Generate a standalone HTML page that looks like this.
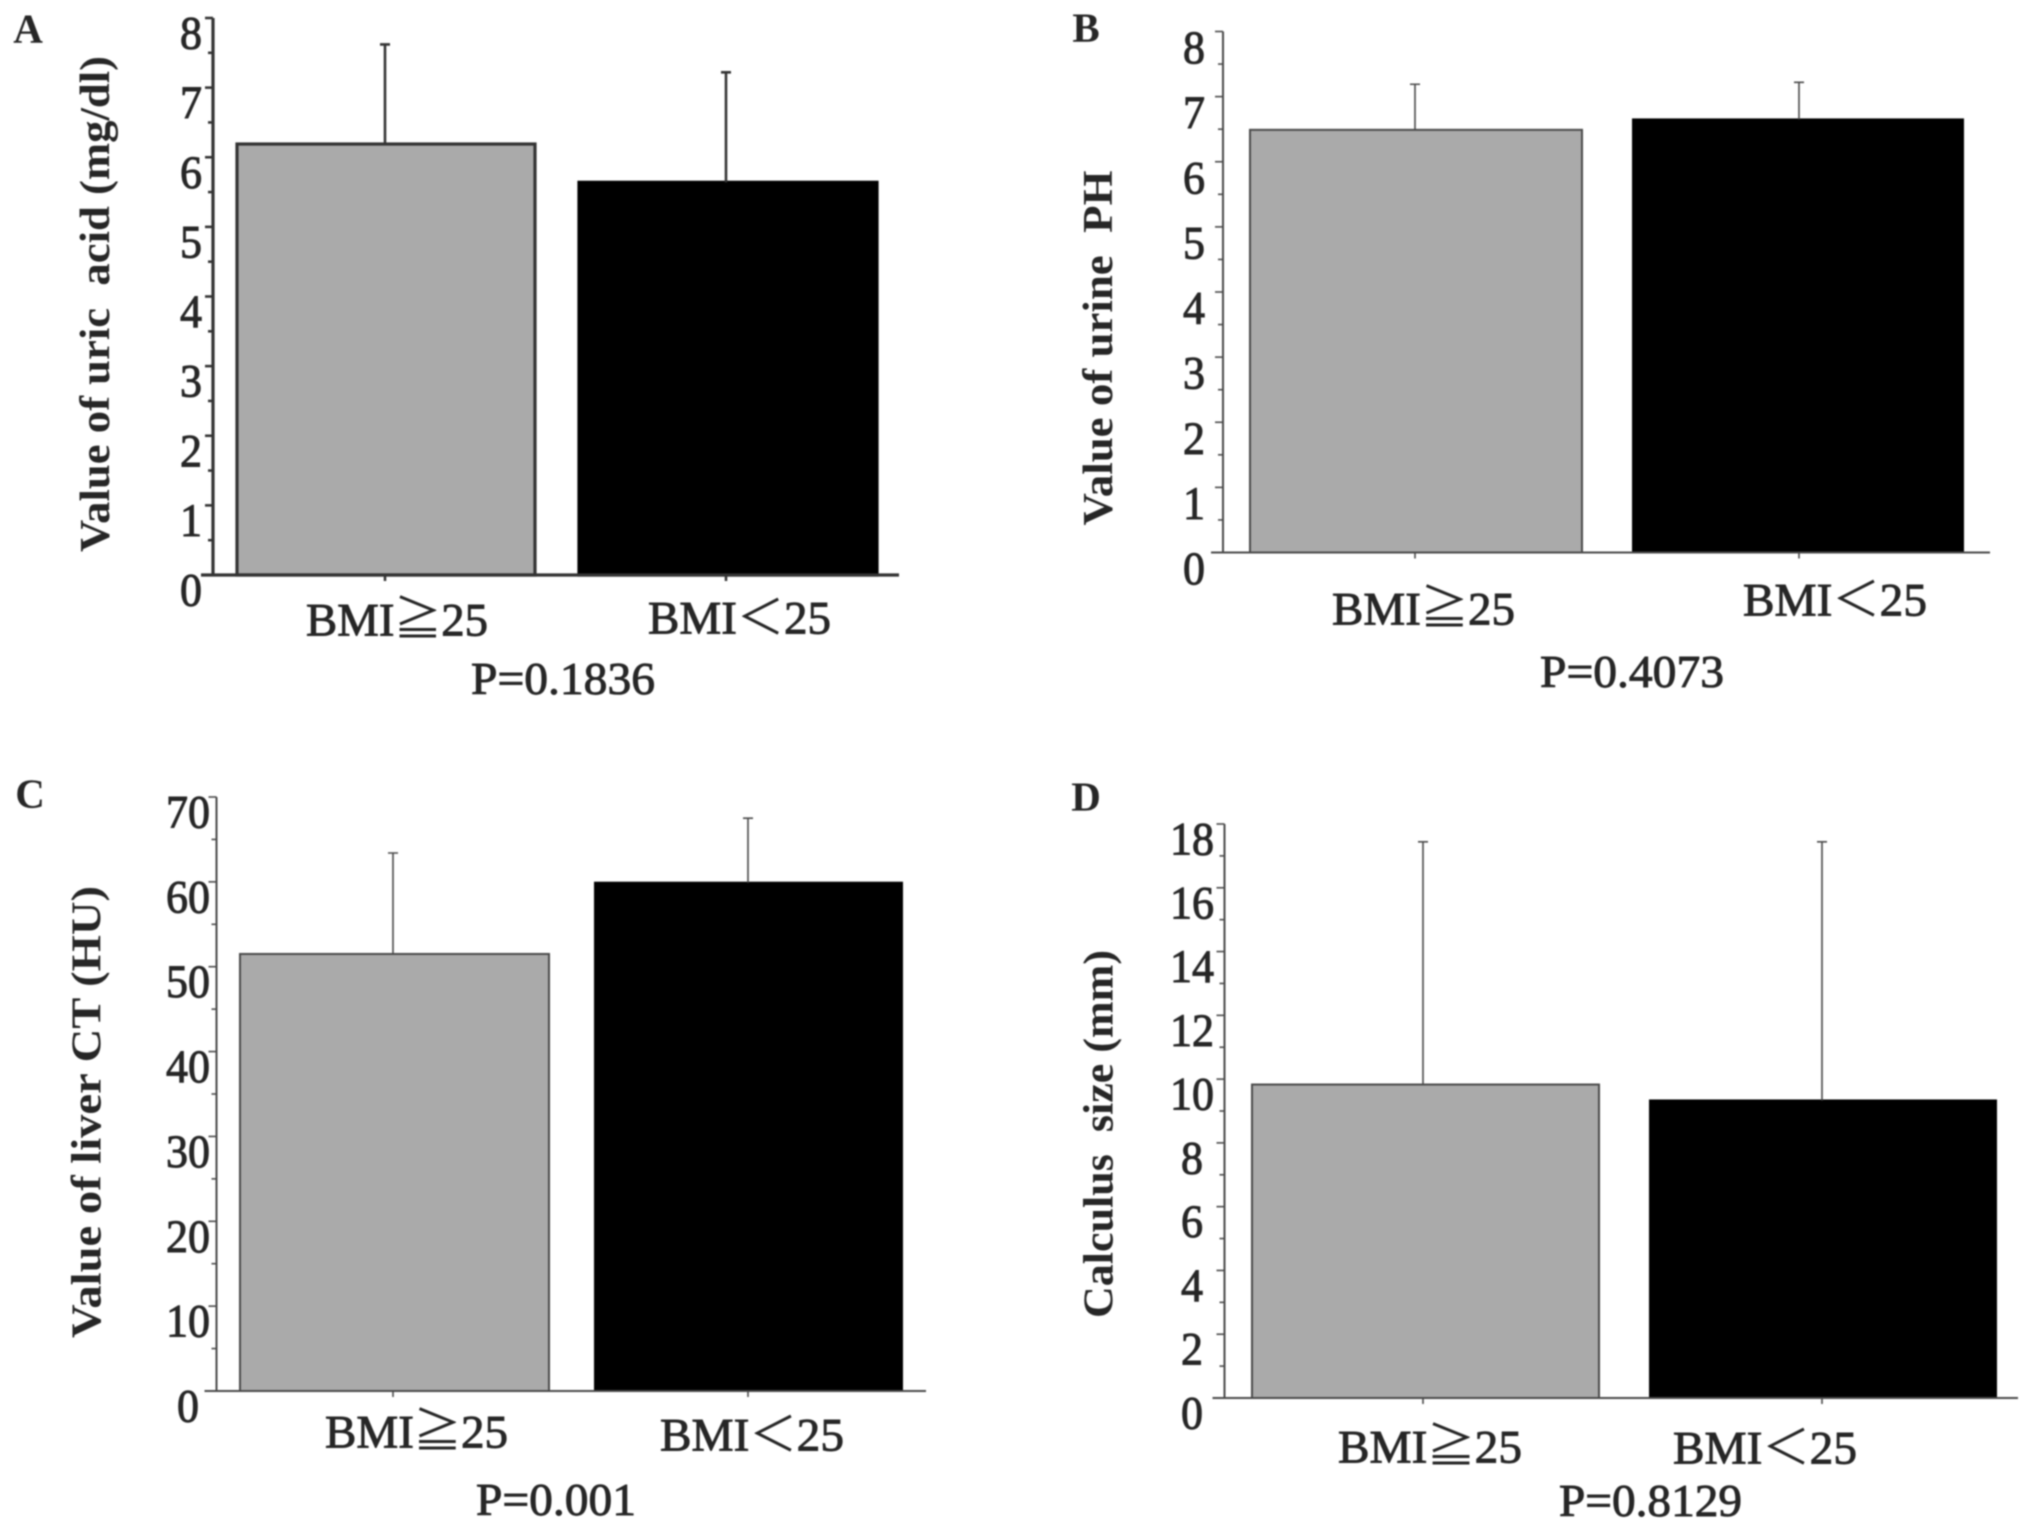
<!DOCTYPE html>
<html>
<head>
<meta charset="utf-8">
<title>Bar charts by BMI group</title>
<style>
html,body{margin:0;padding:0;background:#fff;}
body{width:2031px;height:1530px;overflow:hidden;}
#figure{display:block;filter:blur(0.7px);}
text{font-family:"Liberation Serif","Noto Serif CJK SC","Noto Sans CJK JP",serif;fill:#262626;}
</style>
</head>
<body>
<svg id="figure" xmlns="http://www.w3.org/2000/svg" width="2031" height="1530" viewBox="0 0 2031 1530"></svg>
<script>
const categories = ['BMI≧25', 'BMI＜25'];

const panelAValues = [6.19, 5.64];
const panelAUpperErrors = [7.62, 7.22];
const panelATicks = ['0', '1', '2', '3', '4', '5', '6', '7', '8'];
const panelATitle = 'Value of uric\u00a0\u00a0acid (mg/dl)';
const panelAPValue = 'P=0.1836';

const panelBValues = [6.49, 6.65];
const panelBUpperErrors = [7.19, 7.22];
const panelBTicks = ['0', '1', '2', '3', '4', '5', '6', '7', '8'];
const panelBTitle = 'Value of urine\u00a0\u00a0PH';
const panelBPValue = 'P=0.4073';

const panelCValues = [51.5, 59.9];
const panelCUpperErrors = [63.4, 67.5];
const panelCTicks = ['0', '10', '20', '30', '40', '50', '60', '70'];
const panelCTitle = 'Value of liver CT (HU)';
const panelCPValue = 'P=0.001';

const panelDValues = [9.83, 9.33];
const panelDUpperErrors = [17.44, 17.44];
const panelDTicks = ['0', '2', '4', '6', '8', '10', '12', '14', '16', '18'];
const panelDTitle = 'Calculus\u00a0\u00a0size (mm)';
const panelDPValue = 'P=0.8129';

const panels = [
  {id:'a', letter:'A', values:panelAValues, upper:panelAUpperErrors, ticks:panelATicks, title:panelATitle, p:panelAPValue,
   layout:{axisX:213, top:18, base:575, right:899, bars:[[237,535],[579,877]], errX:[385,726], lw:3.2, color:'#333',
     labelX:191, labelOff:15, titleX:95.5, titleY:304, titleLen:496, catBoxes:[[306,488,620],[648,831,618]], pBox:[471,655,679], letterX:28, letterY:29}},
  {id:'b', letter:'B', values:panelBValues, upper:panelBUpperErrors, ticks:panelBTicks, title:panelBTitle, p:panelBPValue,
   layout:{axisX:1223, top:31.5, base:552.5, right:1990, bars:[[1250,1582],[1633,1963]], errX:[1415,1799], lw:2, color:'#4a4a4a',
     labelX:1194, labelOff:16, titleX:1098.5, titleY:348, titleLen:355, catBoxes:[[1332,1515,609],[1743,1927,600]], pBox:[1540,1724,672], letterX:1086, letterY:28}},
  {id:'c', letter:'C', values:panelCValues, upper:panelCUpperErrors, ticks:panelCTicks, title:panelCTitle, p:panelCPValue,
   layout:{axisX:216.5, top:797, base:1391, right:926, bars:[[240,549],[595,902]], errX:[393,748], lw:2, color:'#4a4a4a',
     labelX:188, labelOff:15, titleX:87, titleY:1112, titleLen:452, catBoxes:[[325,508,1432],[660,844,1435]], pBox:[476,636,1500], letterX:30, letterY:794}},
  {id:'d', letter:'D', values:panelDValues, upper:panelDUpperErrors, ticks:panelDTicks, title:panelDTitle, p:panelDPValue,
   layout:{axisX:1224.5, top:824, base:1398, right:2018, bars:[[1252,1599],[1650,1996]], errX:[1423,1822], lw:2, color:'#4a4a4a',
     labelX:1192, labelOff:15, titleX:1099, titleY:1134, titleLen:368, catBoxes:[[1338,1522,1447],[1673,1857,1448]], pBox:[1559,1742,1501], letterX:1086, letterY:797}}
];

const svg = document.getElementById('figure');
const NS = 'http://www.w3.org/2000/svg';

function make(parent, tag, attrs) {
  const el = document.createElementNS(NS, tag);
  for (const k in attrs) el.setAttribute(k, attrs[k]);
  parent.appendChild(el);
  return el;
}

function centerText(parent, str, cx, cy, size, extra) {
  const attrs = Object.assign({x: cx, y: cy + size * 0.33, 'font-size': size, 'text-anchor': 'middle'}, extra || {});
  const el = make(parent, 'text', attrs);
  el.textContent = str;
  return el;
}

panels.forEach(function (panel) {
  const L = panel.layout;
  const g = make(svg, 'g', {});
  
  

  const tickMax = parseFloat(panel.ticks[panel.ticks.length - 1]);
  const yScale = function (v) { return L.base - v * (L.base - L.top) / tickMax; };

  // bars
  panel.values.forEach(function (v, i) {
    const b = L.bars[i];
    const bar = make(g, 'rect', {x: b[0], y: yScale(v), width: b[1] - b[0], height: L.base - yScale(v),
      fill: i === 0 ? '#aaaaaa' : '#000000', stroke: i === 0 ? L.color : '#000', 'stroke-width': L.lw});
    
    

    const errGroup = make(g, 'path', {
      d: 'M' + L.errX[i] + ' ' + yScale(v) + 'V' + yScale(panel.upper[i]) + 'M' + (L.errX[i] - 5) + ' ' + yScale(panel.upper[i]) + 'H' + (L.errX[i] + 5),
      stroke: L.color, 'stroke-width': L.lw * 0.8, fill: 'none'});
    
    

    const xt = make(g, 'line', {x1: L.errX[i], x2: L.errX[i], y1: L.base, y2: L.base + 6, stroke: L.color, 'stroke-width': L.lw * 0.8});
    
    

    const box = L.catBoxes[i];
    const cat = centerText(g, categories[i], (box[0] + box[1]) / 2, box[2], 47,
      {textLength: box[1] - box[0], lengthAdjust: 'spacingAndGlyphs', stroke: '#262626', 'stroke-width': 0.9});
    
    
  });

  // y axis
  const yAxis = make(g, 'line', {x1: L.axisX, x2: L.axisX, y1: L.top, y2: L.base, stroke: L.color, 'stroke-width': L.lw});
  
  

  // x axis
  const xAxis = make(g, 'line', {x1: L.axisX - 12, x2: L.right, y1: L.base, y2: L.base, stroke: L.color, 'stroke-width': L.lw});
  
  

  // y ticks and labels
  panel.ticks.forEach(function (t, i) {
    const v = parseFloat(t);
    const mark = make(g, 'line', {x1: L.axisX - 8, x2: L.axisX, y1: yScale(v), y2: yScale(v), stroke: L.color, 'stroke-width': L.lw * 0.8});
    
    

    if (i < panel.ticks.length - 1) {
      const next = parseFloat(panel.ticks[i + 1]);
      const minor = make(g, 'line', {x1: L.axisX - 5, x2: L.axisX, y1: yScale((v + next) / 2), y2: yScale((v + next) / 2), stroke: L.color, 'stroke-width': L.lw * 0.8});
      
      
    }

    const label = centerText(g, t, L.labelX, yScale(v) + L.labelOff, 47,
      {textLength: t.length * 22, lengthAdjust: 'spacingAndGlyphs', stroke: '#262626', 'stroke-width': 1});
    
    
  });

  // y title
  const titleEl = make(g, 'text', {
    x: 0, y: 0, 'font-size': 42, 'font-weight': 'bold', 'text-anchor': 'middle',
    textLength: L.titleLen, lengthAdjust: 'spacingAndGlyphs',
    transform: 'translate(' + (L.titleX + 13.5) + ' ' + L.titleY + ') rotate(-90)'});
  titleEl.textContent = panel.title;
  
  

  // p value
  const pEl = centerText(g, panel.p, (L.pBox[0] + L.pBox[1]) / 2, L.pBox[2], 46,
    {textLength: L.pBox[1] - L.pBox[0], lengthAdjust: 'spacingAndGlyphs', stroke: '#262626', 'stroke-width': 0.9});
  
  

  // panel letter
  const letterEl = centerText(g, panel.letter, L.letterX, L.letterY, 41, {'font-weight': 'bold'});
  
  
});
</script>
</body>
</html>
